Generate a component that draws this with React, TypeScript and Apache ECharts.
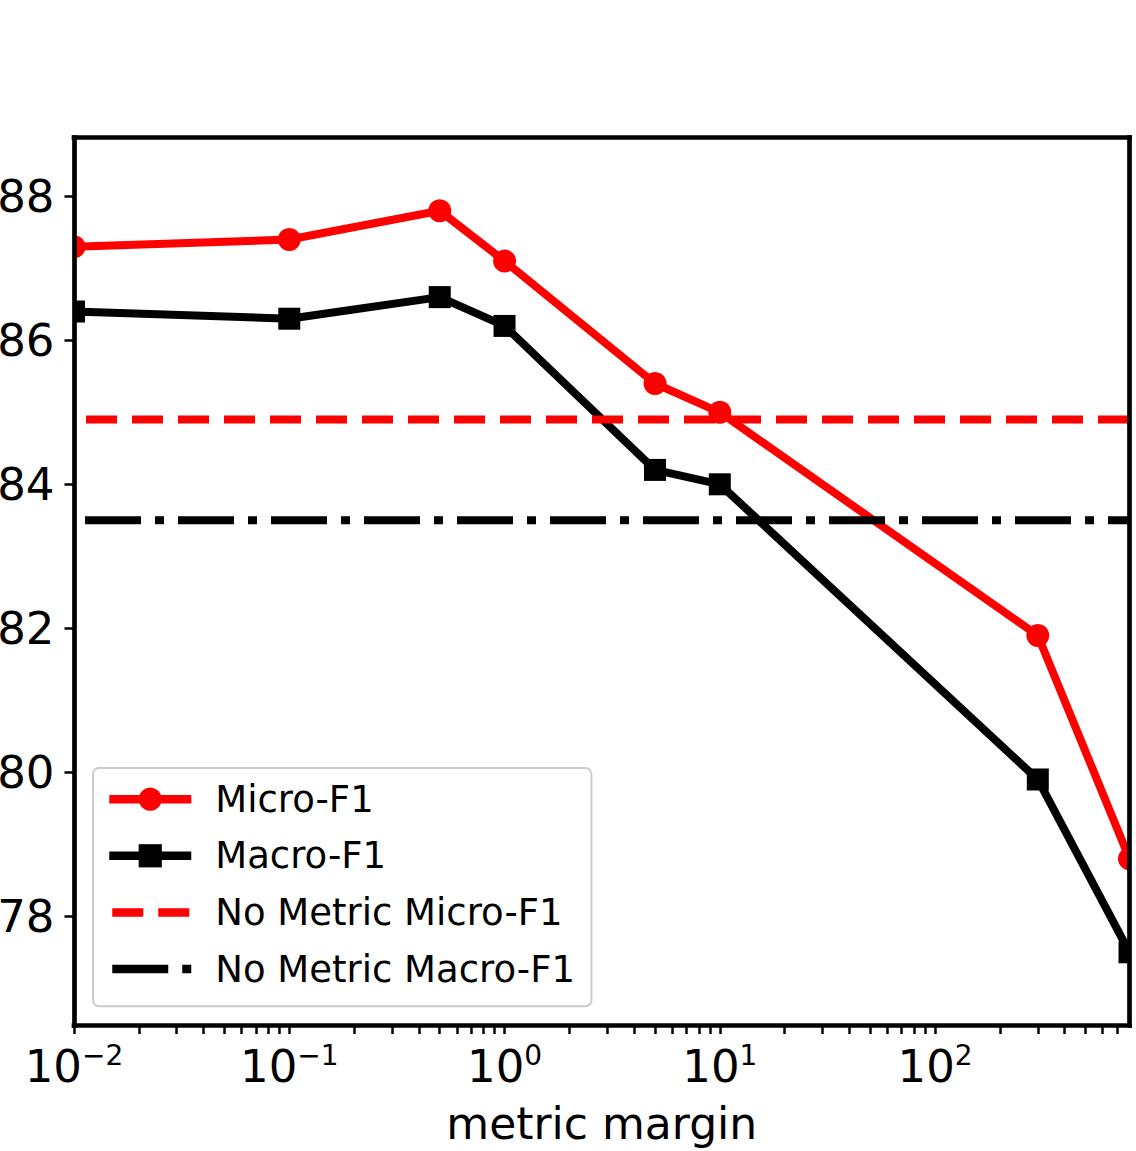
import React, { useEffect, useRef } from 'react';
import * as echarts from 'echarts';

// ---- data ----
const xValues = [0.01, 0.1, 0.5, 1, 5, 10, 300, 800];
const microF1 = [87.3, 87.4, 87.8, 87.1, 85.4, 85.0, 81.9, 78.8];
const macroF1 = [86.4, 86.3, 86.6, 86.2, 84.2, 84.0, 79.9, 77.5];
const noMetricMicroF1 = 84.9;
const noMetricMacroF1 = 83.5;
const seriesNames = ['Micro-F1', 'Macro-F1', 'No Metric Micro-F1', 'No Metric Macro-F1'];
const xRange = [0.01, 800];
const yRange = [76.483, 88.817];
const xMajorTicks = [0.01, 0.1, 1, 10, 100];
const xMinorTicks = [
  0.02, 0.03, 0.04, 0.05, 0.06, 0.07, 0.08, 0.09,
  0.2, 0.3, 0.4, 0.5, 0.6, 0.7, 0.8, 0.9,
  2, 3, 4, 5, 6, 7, 8, 9,
  20, 30, 40, 50, 60, 70, 80, 90,
  200, 300, 400, 500, 600, 700,
];
const yTicks = [78, 80, 82, 84, 86, 88];
const xLabel = 'metric margin';

const FONT = 'DejaVu Sans';
const RED = '#ff0000';
const BLACK = '#000000';

export default function App() {
  const ref = useRef<HTMLDivElement>(null);

  useEffect(() => {
    const chart = echarts.init(ref.current as HTMLDivElement, null, { renderer: 'svg' });

    const supFormatter = (v: number) => {
      const e = Math.round(Math.log10(v));
      const s = e < 0 ? '\u2212' + Math.abs(e) : String(e);
      return '{b|10}{s|' + s + '}';
    };

    const spine = { color: BLACK, width: 4.7, cap: 'square' };

    const option: any = {
      animation: false,
      backgroundColor: '#ffffff',
      grid: {
        left: 74,
        right: 6.5,
        top: 137.5,
        bottom: 125.5,
        containLabel: false,
        outerBoundsMode: 'none',
        show: false,
      },
      legend: {
        show: true,
        orient: 'vertical',
        left: 93,
        top: 768,
        padding: [12.7, 16.5, 18.7, 12],
        itemWidth: 82,
        itemHeight: 29,
        itemGap: 19.6,
        backgroundColor: 'rgba(255,255,255,0.8)',
        borderColor: '#cccccc',
        borderWidth: 2,
        borderRadius: 6,
        selectedMode: false,
        z: 10,
        textStyle: {
          fontFamily: FONT,
          fontSize: 37,
          color: BLACK,
          padding: [0, 0, 0, 19],
        },
        lineStyle: { width: 8.5 },
        itemStyle: { borderWidth: 0 },
        data: [
          { name: seriesNames[0] },
          { name: seriesNames[1] },
          { name: seriesNames[2], lineStyle: { dashOffset: 43 } },
          { name: seriesNames[3], lineStyle: { dashOffset: 90 } },
        ],
      },
      xAxis: [
        {
          type: 'log',
          logBase: 10,
          min: xRange[0],
          max: xRange[1],
          z: 5,
          axisLine: { show: true, onZero: false, lineStyle: spine },
          axisTick: {
            show: true,
            inside: false,
            length: 8.5,
            lineStyle: { color: BLACK, width: 2.5 },
            customValues: [...xMajorTicks, ...xMinorTicks],
          },
          minorTick: { show: false },
          splitLine: { show: false },
          axisLabel: {
            show: true,
            customValues: xMajorTicks,
            formatter: supFormatter,
            margin: 16,
            hideOverlap: false,
            color: BLACK,
            fontFamily: FONT,
            rich: {
              b: { fontSize: 45, lineHeight: 50, fontFamily: FONT, color: BLACK },
              s: { fontSize: 28, lineHeight: 28, fontFamily: FONT, color: BLACK, verticalAlign: 'top' },
            },
          },
          name: xLabel,
          nameLocation: 'middle',
          nameGap: 76.3,
          nameMoveOverlap: false,
          nameTextStyle: { fontFamily: FONT, fontSize: 44, color: BLACK, lineHeight: 44 },
        },
        {
          type: 'value',
          position: 'top',
          min: 0,
          max: 1,
          z: 5,
          axisLine: { show: true, onZero: false, lineStyle: spine },
          axisTick: { show: false },
          axisLabel: { show: false },
          splitLine: { show: false },
        },
      ],
      yAxis: [
        {
          type: 'value',
          min: yRange[0],
          max: yRange[1],
          z: 5,
          axisLine: { show: true, onZero: false, lineStyle: spine },
          axisTick: {
            show: true,
            inside: false,
            length: 9.5,
            lineStyle: { color: BLACK, width: 2.5 },
            customValues: yTicks,
          },
          splitLine: { show: false },
          axisLabel: {
            show: true,
            customValues: yTicks,
            margin: 19.5,
            hideOverlap: false,
            fontFamily: FONT,
            fontSize: 45,
            color: BLACK,
          },
        },
        {
          type: 'value',
          position: 'right',
          min: 0,
          max: 1,
          z: 5,
          axisLine: { show: true, onZero: false, lineStyle: spine },
          axisTick: { show: false },
          axisLabel: { show: false },
          splitLine: { show: false },
        },
      ],
      graphic: [
        {
          type: 'rect',
          z: 3,
          silent: true,
          shape: { x: 0, y: 130, width: 74, height: 900 },
          style: { fill: '#ffffff' },
        },
        {
          type: 'rect',
          z: 3,
          silent: true,
          shape: { x: 1129.5, y: 130, width: 10, height: 900 },
          style: { fill: '#ffffff' },
        },
      ],
      series: [
        {
          name: seriesNames[0],
          type: 'line',
          data: xValues.map((x, i) => [x, microF1[i]]),
          symbol: 'circle',
          symbolSize: 23,
          showSymbol: true,
          clip: false,
          silent: true,
          z: 2,
          emphasis: { disabled: true },
          lineStyle: { color: RED, width: 8, join: 'round' },
          itemStyle: { color: RED, borderWidth: 0 },
        },
        {
          name: seriesNames[1],
          type: 'line',
          data: xValues.map((x, i) => [x, macroF1[i]]),
          symbol: 'rect',
          symbolSize: 22,
          showSymbol: true,
          clip: false,
          silent: true,
          z: 2,
          emphasis: { disabled: true },
          lineStyle: { color: BLACK, width: 8, join: 'round' },
          itemStyle: { color: BLACK, borderWidth: 0 },
        },
        {
          name: seriesNames[2],
          type: 'line',
          data: [
            [xRange[0], noMetricMicroF1],
            [xRange[1], noMetricMicroF1],
          ],
          symbol: 'circle',
          showSymbol: false,
          clip: false,
          silent: true,
          z: 2,
          emphasis: { disabled: true },
          lineStyle: { color: RED, width: 8, type: [31, 15], dashOffset: 33.5, cap: 'butt' },
          itemStyle: { color: 'rgba(0,0,0,0)', borderColor: 'rgba(0,0,0,0)', borderWidth: 0 },
        },
        {
          name: seriesNames[3],
          type: 'line',
          data: [
            [xRange[0], noMetricMacroF1],
            [xRange[1], noMetricMacroF1],
          ],
          symbol: 'circle',
          showSymbol: false,
          clip: false,
          silent: true,
          z: 2,
          emphasis: { disabled: true },
          lineStyle: { color: BLACK, width: 8, type: [56, 14, 9, 14], dashOffset: 82, cap: 'butt' },
          itemStyle: { color: 'rgba(0,0,0,0)', borderColor: 'rgba(0,0,0,0)', borderWidth: 0 },
        },
      ],
    };

    chart.setOption(option);
    return () => {
      chart.dispose();
    };
  }, []);

  return (
    <div
      ref={ref}
      style={{ position: 'absolute', left: 0, top: 0, width: 1136, height: 1151 }}
    />
  );
}
